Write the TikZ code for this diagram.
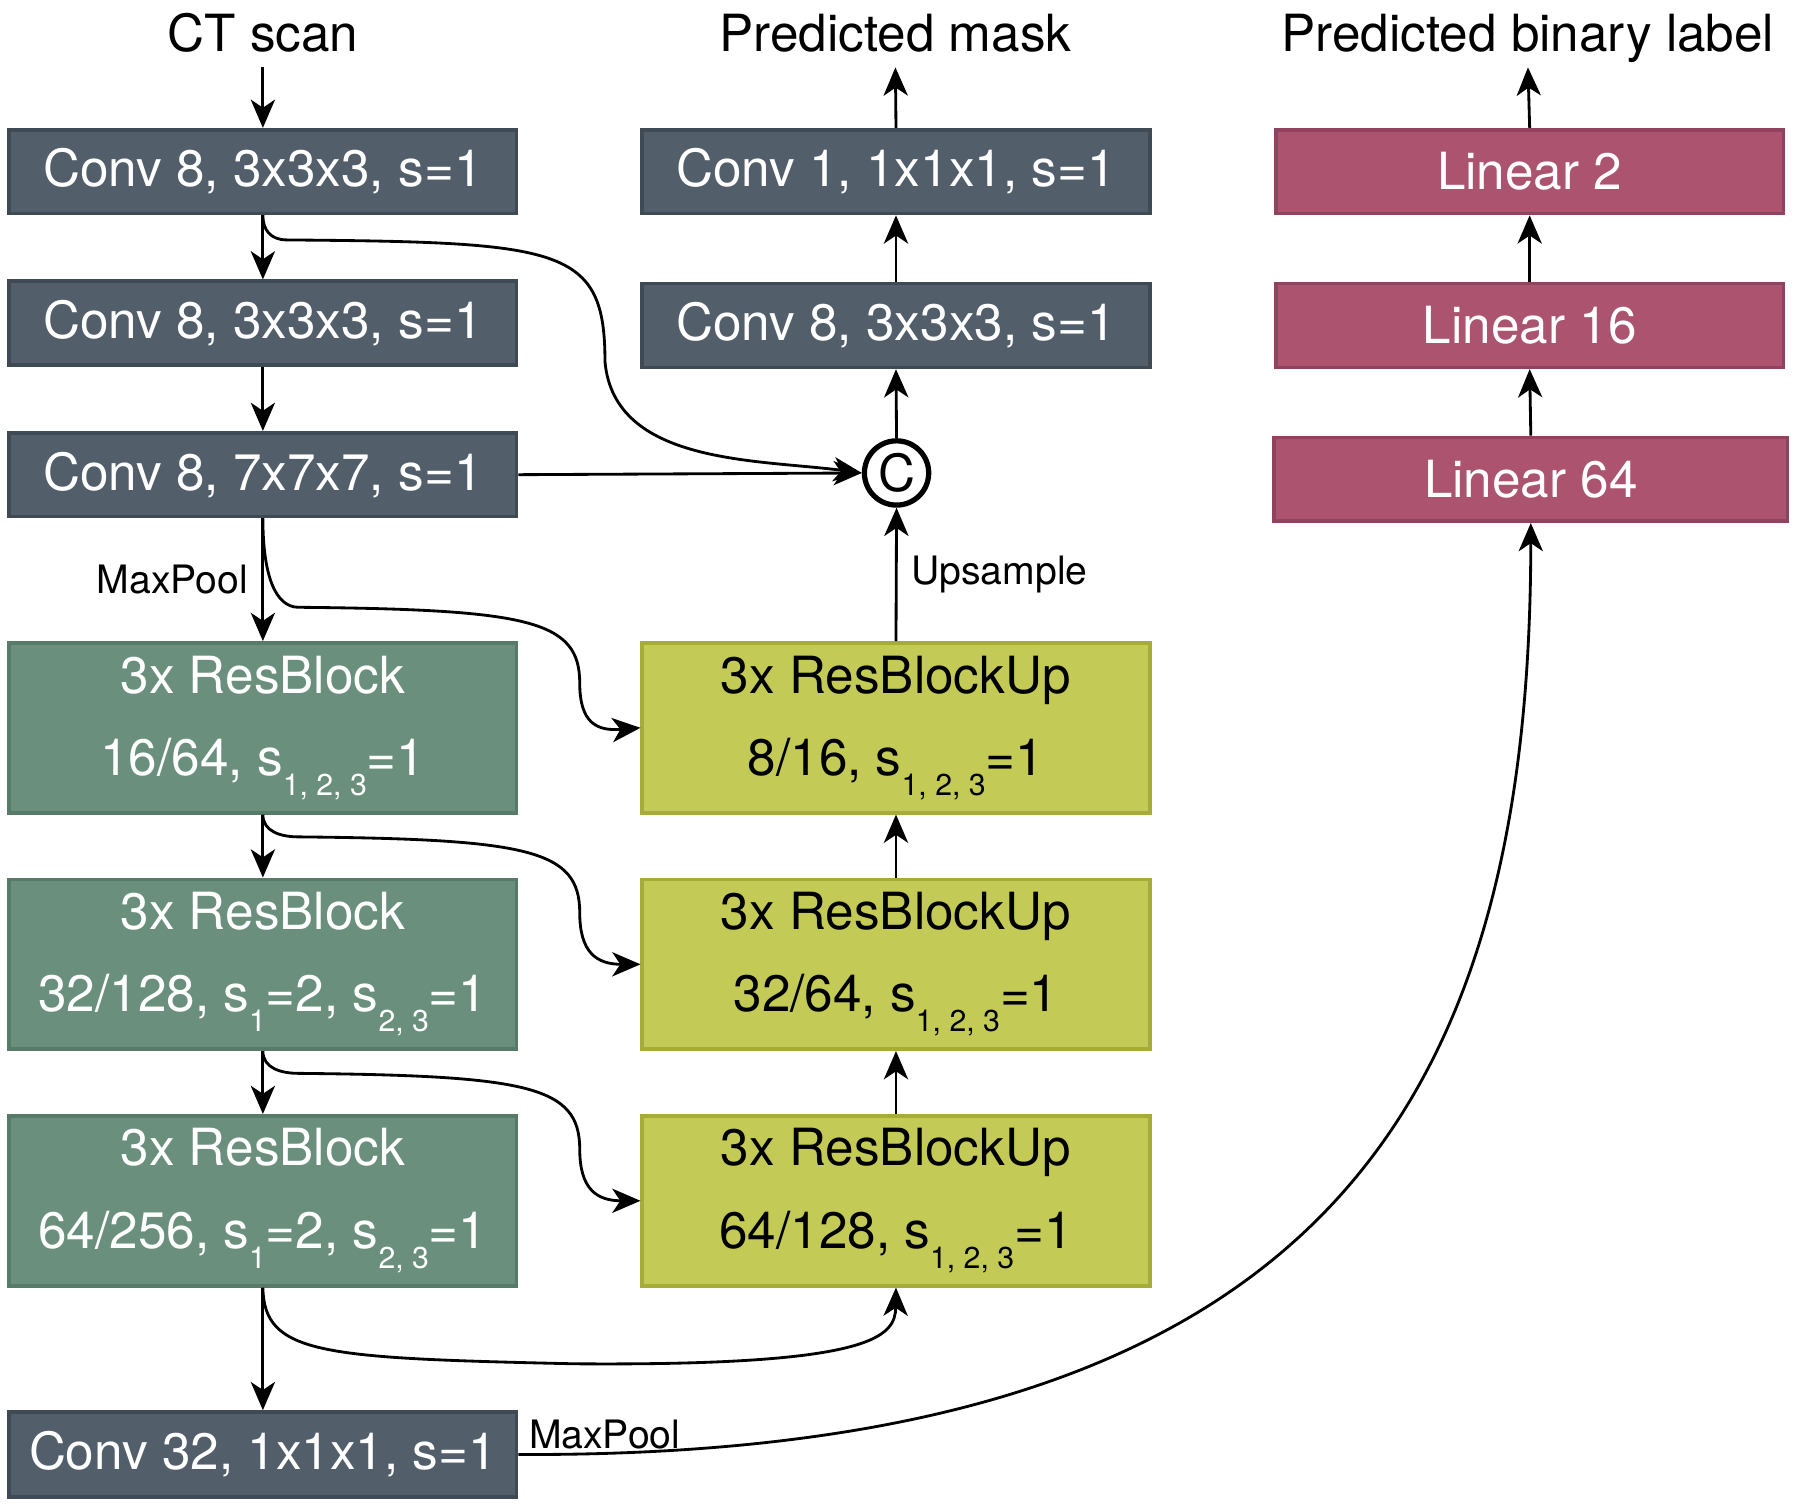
\documentclass[tikz,border=0pt]{standalone}
\usepackage{fontspec}
\setmainfont{TeX Gyre Heros}
\usetikzlibrary{arrows.meta,positioning}

\definecolor{slatefill}{HTML}{525E6A}
\definecolor{slateline}{HTML}{404A54}
\definecolor{sagefill}{HTML}{6A907D}
\definecolor{sageline}{HTML}{587A69}
\definecolor{upfill}{HTML}{C3CA55}
\definecolor{upline}{HTML}{A6AC3A}
\definecolor{rosefill}{HTML}{AB536F}
\definecolor{roseline}{HTML}{91425E}

\newcommand{\lowsub}[1]{\raisebox{-5pt}{\fontsize{7.5}{8}\selectfont #1}}

\begin{document}
\begin{tikzpicture}[
    box/.style={draw, line width=0.9pt, minimum width=4.42cm, minimum height=0.73cm, inner sep=0pt, font=\fontsize{12.7}{14}\selectfont},
    convbox/.style={box, fill=slatefill, draw=slateline, text=white},
    resbox/.style={box, fill=sagefill, draw=sageline, text=white, minimum height=1.48cm, align=center, font=\fontsize{12.7}{20.4}\selectfont},
    upbox/.style={resbox, fill=upfill, draw=upline, text=black},
    linbox/.style={box, fill=rosefill, draw=roseline, text=white},
    catnode/.style={circle, draw, line width=1.3pt, minimum size=0.56cm, inner sep=0pt, font=\fontsize{12.7}{14}\selectfont},
    title/.style={anchor=base, inner sep=0pt, text depth=3.7pt, font=\fontsize{12.7}{14}\selectfont},
    lbl/.style={font=\fontsize{9.7}{11}\selectfont},
    arr/.style={-{Stealth[length=7pt,width=6pt,inset=2pt]}, line width=0.7pt},
]
    \useasboundingbox (0,0) rectangle (15.68,13.15);

    % titles
    \node[title] (ct) at (2.29,12.70) {CT scan};
    \node[title] (pm) at (7.80,12.70) {Predicted mask};
    \node[title] (pb) at (13.31,12.70) {Predicted binary label};

    % encoder
    \node[convbox] (c1) at (2.29,11.655) {Conv 8, 3x3x3, s=1};
    \node[convbox] (c2) at (2.29,10.335) {Conv 8, 3x3x3, s=1};
    \node[convbox] (c3) at (2.29,9.015) {Conv 8, 7x7x7, s=1};
    \node[resbox] (r1) at (2.29,6.81) {3x ResBlock\\16/64, s\lowsub{1, 2, 3}=1};
    \node[resbox] (r2) at (2.29,4.75) {3x ResBlock\\32/128, s\lowsub{1}=2, s\lowsub{2, 3}=1};
    \node[resbox] (r3) at (2.29,2.69) {3x ResBlock\\64/256, s\lowsub{1}=2, s\lowsub{2, 3}=1};
    \node[convbox, minimum height=0.74cm] (c4) at (2.29,0.48) {Conv 32, 1x1x1, s=1};

    % decoder
    \node[convbox] (m1) at (7.805,11.655) {Conv 1, 1x1x1, s=1};
    \node[convbox] (m2) at (7.805,10.315) {Conv 8, 3x3x3, s=1};
    \node[catnode] (cat) at (7.81,9.03) {C};
    \node[upbox] (u1) at (7.805,6.81) {3x ResBlockUp\\8/16, s\lowsub{1, 2, 3}=1};
    \node[upbox] (u2) at (7.805,4.75) {3x ResBlockUp\\32/64, s\lowsub{1, 2, 3}=1};
    \node[upbox] (u3) at (7.805,2.69) {3x ResBlockUp\\64/128, s\lowsub{1, 2, 3}=1};

    % classifier
    \node[linbox] (l1) at (13.325,11.655) {Linear 2};
    \node[linbox] (l2) at (13.325,10.315) {Linear 16};
    \node[linbox, minimum width=4.47cm] (l3) at (13.335,8.975) {Linear 64};

    % main path
    \draw[arr] (ct.south) -- (c1.north);
    \draw[arr] (c1.south) -- (c2.north);
    \draw[arr] (c2.south) -- (c3.north);
    \draw[arr] (c3.south) -- (r1.north) node[midway,left,lbl] {MaxPool};
    \draw[arr] (r1.south) -- (r2.north);
    \draw[arr] (r2.south) -- (r3.north);
    \draw[arr] (r3.south) -- (c4.north);

    \draw[arr] (u3.north) -- (u2.south);
    \draw[arr] (u2.north) -- (u1.south);
    \draw[arr] (u1.north) -- (cat.south) node[midway,right,lbl] {Upsample};
    \draw[arr] (cat.north) -- (m2.south);
    \draw[arr] (m2.north) -- (m1.south);
    \draw[arr] (m1.north) -- (pm.south);

    \draw[arr] (l3.north) -- (l2.south);
    \draw[arr] (l2.north) -- (l1.south);
    \draw[arr] (l1.north) -- (pb.south);

    % skip connections
    \draw[arr] (c3.east) -- (cat.west);
    \draw[arr] (c1.south) to[out=-90,in=180,out distance=0.12cm,in distance=0.15cm] (2.5,11.06)
        .. controls (4.9,11.04) and (5.27,11.0) .. (5.27,10.0)
        .. controls (5.35,9.1) and (6.6,9.15) .. (cat.west);
    \draw[arr] (c3.south) to[out=-90,in=180,out distance=0.5cm,in distance=0.2cm] (2.6,7.86)
        .. controls (4.6,7.84) and (5.05,7.75) .. (5.05,7.2)
        .. controls (5.05,6.85) and (5.2,6.78) .. (u1.west);
    \draw[arr] (r1.south) to[out=-90,in=180,out distance=0.15cm,in distance=0.15cm] (2.6,5.86)
        .. controls (4.6,5.84) and (5.05,5.75) .. (5.05,5.2)
        .. controls (5.05,4.85) and (5.2,4.75) .. (u2.west);
    \draw[arr] (r2.south) to[out=-90,in=180,out distance=0.15cm,in distance=0.15cm] (2.6,3.80)
        .. controls (4.6,3.78) and (5.05,3.69) .. (5.05,3.14)
        .. controls (5.05,2.79) and (5.2,2.69) .. (u3.west);
    \draw[arr] (r3.south) .. controls (2.3,1.35) and (2.8,1.32) .. (5.0,1.27)
        .. controls (7.6,1.25) and (7.8,1.5) .. (u3.south);

    % to classifier
    \draw[arr] (c4.east) .. controls (11.5,0.45) and (13.33,3.5) .. (l3.south)
        node[at start, anchor=base west, xshift=0.08cm, yshift=0.05cm, inner sep=0pt, lbl] {MaxPool};
\end{tikzpicture}
\end{document}
